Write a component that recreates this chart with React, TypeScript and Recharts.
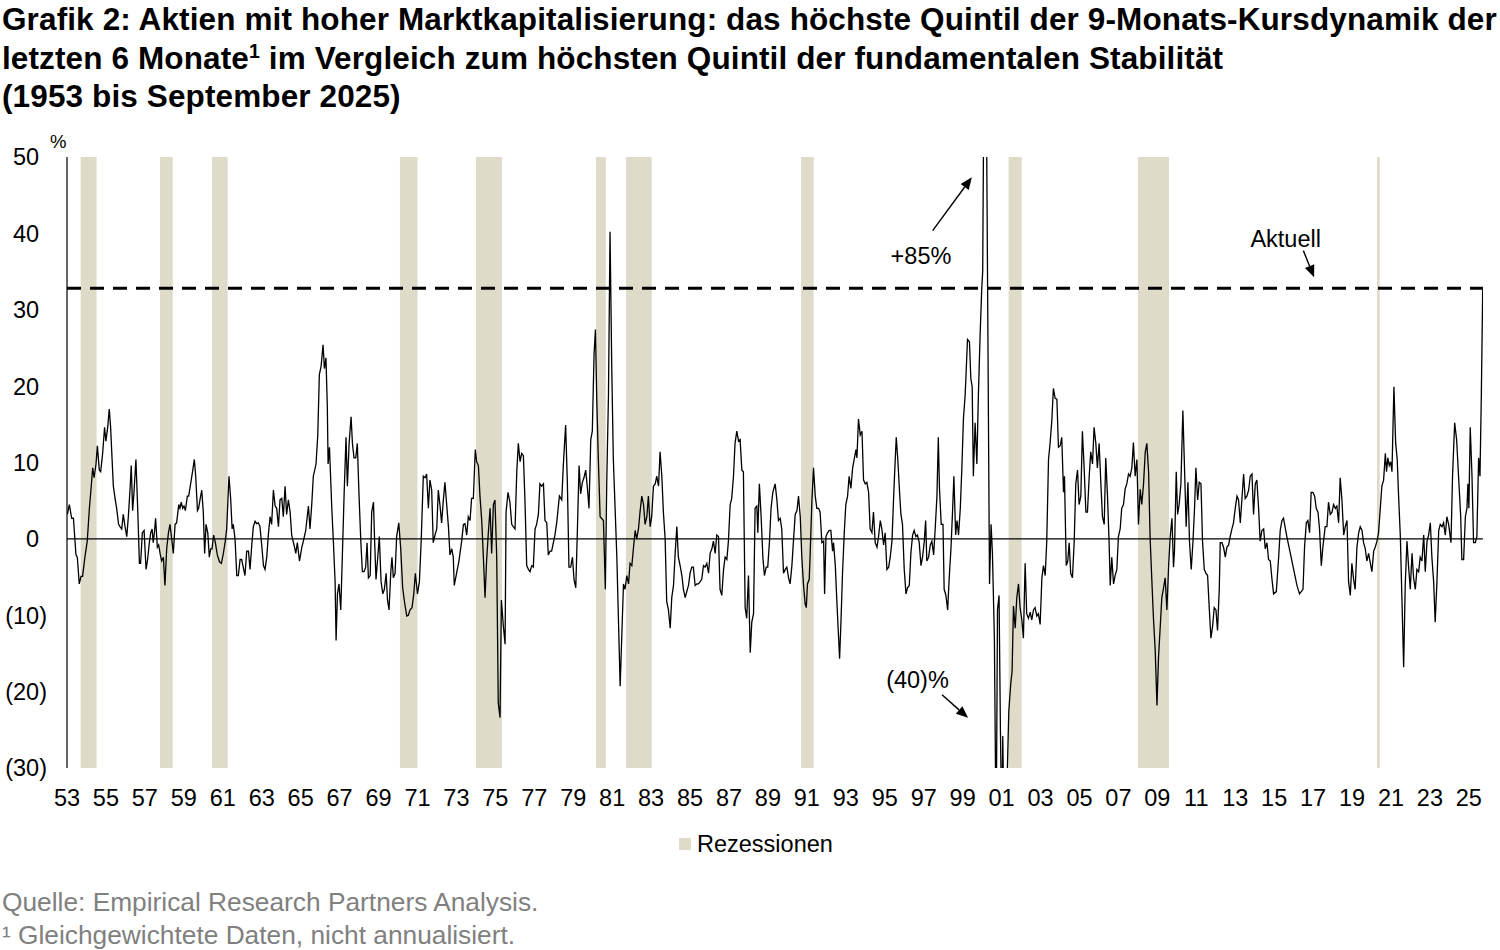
import React from 'react';
import {
  ComposedChart,
  Line,
  XAxis,
  YAxis,
  ReferenceArea,
  ReferenceLine,
  ReferenceDot,
} from 'recharts';

// Decimal years and spread values (%), in segments
const years1953 = [
  1953.02, 1953.12, 1953.24, 1953.33, 1953.46, 1953.53, 1953.63, 1953.72, 1953.8, 1953.92,
  1954.04, 1954.15, 1954.22, 1954.32, 1954.39, 1954.49, 1954.56, 1954.66, 1954.73, 1954.83,
  1954.93, 1955.0, 1955.09, 1955.17, 1955.24, 1955.38, 1955.47, 1955.55, 1955.65, 1955.72,
  1955.81, 1955.89, 1955.98, 1956.07, 1956.15, 1956.24, 1956.3, 1956.37, 1956.44, 1956.54,
  1956.63, 1956.72, 1956.78, 1956.87, 1956.96, 1957.06, 1957.14, 1957.23, 1957.3, 1957.37,
  1957.43, 1957.5, 1957.55, 1957.64, 1957.71, 1957.78, 1957.86, 1957.95, 1958.03, 1958.12,
  1958.21, 1958.29, 1958.39, 1958.46, 1958.55, 1958.63, 1958.74, 1958.8, 1958.87, 1958.94,
  1959.01, 1959.08, 1959.18, 1959.25, 1959.35, 1959.46, 1959.54, 1959.61, 1959.7, 1959.76,
  1959.83, 1959.92, 1960.0, 1960.07, 1960.14, 1960.23, 1960.31, 1960.38, 1960.45, 1960.53,
  1960.62, 1960.72, 1960.83, 1960.93, 1961.03, 1961.13, 1961.2, 1961.27, 1961.32, 1961.41,
  1961.48, 1961.54, 1961.63, 1961.72, 1961.8, 1961.89, 1961.97,
];
const values1953 = [
  3.2, 4.5, 2.7, 2.7, -2.1, -2.4, -5.9, -4.9, -4.9, -2.4,
  -0.3, 4.0, 6.1, 9.3, 8.0, 9.8, 12.2, 9.0, 8.8, 11.2,
  14.6, 12.8, 14.6, 17.0, 14.6, 6.9, 5.3, 4.0, 1.9, 1.6,
  1.3, 3.2, 1.6, 0.3, 2.9, 6.6, 9.6, 3.7, 6.1, 10.4,
  4.0, -3.2, -3.2, 0.8, 1.1, -4.0, -2.7, -0.5, 0.8, 1.3,
  -0.5, 1.1, 2.7, -1.1, -0.8, -1.9, -2.9, -2.4, -6.1, -1.3,
  0.8, 1.9, -0.3, -1.9, 1.9, 2.1, 4.5, 4.0, 4.8, 4.0,
  4.3, 3.7, 5.6, 5.6, 7.2, 9.0, 10.4, 8.2, 3.7, 4.0,
  5.1, 6.4, 3.5, -1.9, 1.9, 0.8, -2.4, -1.3, -1.3, 0.5,
  -0.5, -2.1, -3.0, -3.2, -1.9, -0.3, 1.3, 5.3, 8.2, 5.1,
  1.3, 1.9, 0, -4.8, -4.8, -2.7, -2.7,
];

const years1962 = [
  1962.14, 1962.23, 1962.32, 1962.4, 1962.49, 1962.57, 1962.66, 1962.74, 1962.83, 1962.91,
  1963.0, 1963.09, 1963.17, 1963.26, 1963.34, 1963.43, 1963.51, 1963.6, 1963.69, 1963.77,
  1963.86, 1963.94, 1964.03, 1964.11, 1964.2, 1964.28, 1964.37, 1964.46, 1964.54, 1964.66,
  1964.75, 1964.83, 1964.94, 1965.06, 1965.14, 1965.26, 1965.4, 1965.48, 1965.57, 1965.65,
  1965.79, 1965.88, 1965.96, 1966.05, 1966.15, 1966.22, 1966.3, 1966.37, 1966.41, 1966.48,
  1966.6, 1966.68, 1966.77, 1966.82, 1966.89, 1966.97, 1967.06, 1967.14, 1967.23, 1967.33,
  1967.4, 1967.49, 1967.59, 1967.66, 1967.74, 1967.83, 1967.91, 1968.0, 1968.09, 1968.17,
  1968.26, 1968.34, 1968.41, 1968.48, 1968.57, 1968.65, 1968.74, 1968.8, 1968.87, 1968.96,
  1969.04, 1969.13, 1969.22, 1969.3, 1969.39, 1969.46, 1969.54, 1969.63, 1969.69, 1969.76,
  1969.85, 1969.93, 1970.04, 1970.14, 1970.24, 1970.33, 1970.45, 1970.53, 1970.62, 1970.72,
  1970.81, 1970.89, 1971.0, 1971.1, 1971.19, 1971.3,
];
const values1962 = [
  -4.8, -1.6, -1.6, -4.0, -0.8, 1.6, 2.3, 2.0, 2.1, 1.6,
  -0.8, -3.5, -4.0, -2.4, 0.5, 2.9, 1.9, 6.4, 4.3, 4.0,
  1.6, 5.1, 5.3, 2.9, 6.9, 3.2, 5.1, 3.5, 0.5, -0.8,
  -1.9, -0.5, -2.9, -1.1, -0.3, 1.1, 4.3, 1.3, 4.5, 8.2,
  9.8, 13.6, 21.5, 22.6, 25.4, 22.3, 23.7, 17.3, 9.8, 12.0,
  4.0, -0.3, -5.6, -13.3, -7.2, -5.9, -9.3, -2.4, 5.6, 13.3,
  6.9, 12.5, 16.0, 12.5, 10.6, 10.6, 12.5, 5.6, -0.3, -4.3,
  -4.3, -3.7, -0.5, -5.1, -4.8, 3.5, 4.8, -0.3, -5.3, -2.4,
  0.3, -5.6, -7.2, -6.6, -4.5, -8.0, -9.3, -4.3, -2.4, -5.1,
  -4.5, 0.3, 2.1, -1.3, -6.4, -8.2, -10.1, -10.0, -9.3, -9.0,
  -7.2, -4.5, -7.2, -5.6, -0.3, 8.2,
];

const years1971 = [
  1971.39, 1971.47, 1971.56, 1971.64, 1971.73, 1971.81, 1971.9, 1971.99, 1972.07, 1972.16,
  1972.24, 1972.33, 1972.41, 1972.5, 1972.59, 1972.67, 1972.76, 1972.84, 1972.89, 1973.01,
  1973.13, 1973.27, 1973.36, 1973.44, 1973.53, 1973.61, 1973.7, 1973.78, 1973.87, 1973.97,
  1974.04, 1974.13, 1974.21, 1974.3, 1974.38, 1974.47, 1974.55, 1974.64, 1974.73, 1974.81,
  1974.9, 1974.98, 1975.07, 1975.15, 1975.24, 1975.31, 1975.41, 1975.5, 1975.55, 1975.65,
  1975.75, 1975.84, 1975.92, 1976.01, 1976.1, 1976.18, 1976.27, 1976.35, 1976.44, 1976.52,
  1976.61, 1976.7, 1976.78, 1976.87, 1976.95, 1977.04, 1977.12, 1977.21, 1977.29, 1977.38,
  1977.47, 1977.55, 1977.64, 1977.72, 1977.81, 1977.89, 1977.98, 1978.06, 1978.15, 1978.29,
  1978.41, 1978.49, 1978.61, 1978.7, 1978.78, 1978.87, 1978.96, 1979.04, 1979.13, 1979.21,
  1979.3, 1979.38, 1979.47, 1979.55, 1979.64, 1979.73, 1979.81, 1979.9, 1979.98, 1980.07,
  1980.14, 1980.21, 1980.29, 1980.38,
];
const values1971 = [
  8.0, 8.5, 4.0, 7.7, 6.4, -0.5, 0.5, 1.3, 6.4, 4.3,
  2.1, 5.1, 7.4, 4.5, 1.6, -2.1, -1.3, -2.4, -6.1, -4.5,
  -2.9, -0.3, 1.9, 2.0, 0.5, 2.9, 2.4, 5.3, 5.3, 11.7,
  10.1, 9.6, 5.6, 2.4, -2.1, -7.7, -2.9, 0.8, 4.0, -1.9,
  4.5, 5.1, -2.4, -21.5, -23.4, -8.0, -11.4, -13.8, 3.5, 6.1,
  4.8, 1.9, 1.6, 1.3, 8.8, 12.5, 10.1, 11.2, 10.9, 5.1,
  -3.5, -4.0, -4.3, -3.5, -3.7, 1.3, 1.9, 3.2, 7.2, 6.9,
  7.2, 2.4, 2.1, -2.1, -1.6, -1.6, -0.5, 0.5, 2.1, 5.6,
  5.1, 9.6, 14.9, 7.2, -3.7, -3.7, -2.4, -5.3, -6.4, 0.8,
  9.6, 5.9, 7.4, 8.0, 9.0, 6.6, 4.0, 13.0, 14.1, 24.2,
  27.4, 18.1, 10.4, 2.9,
];

const years1980 = [
  1980.55, 1980.65, 1980.72, 1980.81, 1980.89, 1980.98, 1981.06, 1981.15, 1981.24, 1981.32,
  1981.41, 1981.49, 1981.58, 1981.66, 1981.75, 1981.84, 1981.92, 1982.01, 1982.09, 1982.18,
  1982.26, 1982.35, 1982.43, 1982.52, 1982.61, 1982.69, 1982.78, 1982.86, 1982.95, 1983.03,
  1983.12, 1983.21, 1983.29, 1983.38, 1983.46, 1983.55, 1983.63, 1983.72, 1983.8, 1983.89,
  1983.98, 1984.06, 1984.15, 1984.23, 1984.32, 1984.4, 1984.49, 1984.58, 1984.66, 1984.75,
  1984.83, 1984.92, 1985.0, 1985.09, 1985.17, 1985.26, 1985.35, 1985.43, 1985.52, 1985.6,
  1985.69, 1985.77, 1985.86, 1985.95, 1986.03, 1986.12, 1986.2, 1986.29, 1986.37, 1986.46,
  1986.54, 1986.63, 1986.72, 1986.8, 1986.89, 1986.97, 1987.06, 1987.14, 1987.23, 1987.31,
  1987.4, 1987.49, 1987.57, 1987.66, 1987.74, 1987.83, 1987.91, 1988.0, 1988.09, 1988.17,
  1988.26, 1988.34, 1988.43, 1988.48, 1988.56, 1988.65, 1988.74, 1988.82, 1988.91, 1988.99,
  1989.08, 1989.16, 1989.25, 1989.37, 1989.46, 1989.54, 1989.63, 1989.71, 1989.8,
];
const values1980 = [
  2.4, -6.6, 7.2, 18.9, 40.2, 22.1, 10.4, 4.0, -2.4, -10.4,
  -19.3, -13.0, -5.9, -6.6, -4.8, -5.9, -3.2, -3.5, -1.3, 1.1,
  0, 1.3, 3.5, 5.6, 4.5, 1.9, 2.9, 5.6, 1.6, 2.9,
  6.9, 7.2, 8.2, 6.9, 11.4, 8.2, 3.5, 0, -8.2, -9.3,
  -11.7, -7.7, -6.1, -2.1, 1.6, -2.4, -3.5, -4.8, -6.6, -7.7,
  -6.9, -6.1, -4.5, -3.7, -3.7, -6.1, -5.9, -5.9, -5.6, -5.3,
  -3.5, -3.7, -3.2, -4.5, -1.9, -1.3, -0.3, -1.9, 0.5, 0.3,
  -6.6, -7.4, -4.0, -2.4, -2.7, -0.3, 4.5, 5.3, 8.2, 12.5,
  14.1, 12.8, 13.0, 9.0, 8.8, -9.0, -10.4, -4.8, -14.9, -10.9,
  -9.8, 4.0, 4.3, 0.8, 7.2, 2.9, -2.4, -4.8, -3.7, -3.7,
  -0.3, 4.0, 6.1, 7.2, 5.1, 2.4, 2.7, 1.3, -4.5,
];

const years1990 = [
  1989.89, 1989.97, 1990.06, 1990.14, 1990.23, 1990.31, 1990.4, 1990.49, 1990.57, 1990.66,
  1990.74, 1990.83, 1990.91, 1990.97, 1991.03, 1991.12, 1991.17, 1991.26, 1991.34, 1991.43,
  1991.51, 1991.6, 1991.68, 1991.77, 1991.86, 1991.91, 1991.98, 1992.06, 1992.15, 1992.23,
  1992.32, 1992.37, 1992.46, 1992.54, 1992.63, 1992.68, 1992.75, 1992.83, 1992.92, 1993.0,
  1993.09, 1993.17, 1993.26, 1993.35, 1993.43, 1993.52, 1993.57, 1993.65, 1993.74, 1993.83,
  1993.91, 1994.0, 1994.08, 1994.17, 1994.25, 1994.34, 1994.42, 1994.51, 1994.6, 1994.68,
  1994.77, 1994.85, 1994.94, 1995.02, 1995.11, 1995.2, 1995.28, 1995.37, 1995.45, 1995.5,
  1995.59, 1995.67, 1995.76, 1995.83, 1995.91, 1996.0, 1996.09, 1996.17, 1996.26, 1996.34,
  1996.43, 1996.51, 1996.6, 1996.68, 1996.77, 1996.86, 1996.94, 1997.03, 1997.1, 1997.16,
  1997.25, 1997.34, 1997.42, 1997.51, 1997.59, 1997.68, 1997.75, 1997.81, 1997.9, 1997.99,
  1998.05, 1998.14, 1998.23, 1998.31, 1998.4, 1998.48, 1998.55, 1998.64, 1998.71, 1998.79,
  1998.88, 1998.96,
];
const values1990 = [
  -4.0, -3.7, -5.1, -5.9, -3.5, -0.3, 3.2, 3.7, 5.6, 2.9,
  -2.4, -6.1, -8.5, -9.0, -5.9, -5.3, -1.9, 5.1, 9.3, 5.6,
  4.0, 4.0, 3.5, -0.5, -0.3, -7.2, 0.3, 0.8, 1.1, 1.1,
  -1.6, -0.5, -3.5, -8.2, -13.0, -15.7, -10.9, -4.5, 0.8, 4.5,
  5.6, 8.2, 6.6, 9.3, 10.4, 11.7, 10.6, 15.7, 13.6, 14.1,
  7.7, 7.2, 7.4, 6.1, 1.3, 0.8, 3.5, -0.5, -1.1, 0.3,
  2.4, 1.3, -0.8, 0.8, -4.0, -3.7, -2.4, -0.3, 5.1, 8.2,
  13.3, 10.4, 6.1, 3.2, 1.9, -4.0, -7.2, -6.4, -6.1, -1.9,
  0.5, 1.1, 0.3, 0.5, -0.5, -3.5, -2.4, -0.3, 2.4, -2.9,
  -2.4, -0.8, -0.3, -2.1, 1.3, 5.6, 13.3, 6.6, 1.9, 1.9,
  -6.6, -7.4, -9.3, -5.1, -1.3, 3.5, 8.2, 0.5, 2.4, 0.5,
  4.0, 9.3,
];

const years1999 = [
  1999.04, 1999.13, 1999.25, 1999.35, 1999.42, 1999.49, 1999.55, 1999.64, 1999.73, 1999.81,
  1999.9, 1999.98, 2000.03, 2000.15, 2000.38, 2000.46, 2000.53, 2000.63, 2000.72, 2000.79,
  2000.87, 2000.94, 2001.01, 2001.06, 2001.11, 2001.27, 2001.37, 2001.47, 2001.54, 2001.61,
  2001.7, 2001.78, 2001.87, 2001.95, 2002.04, 2002.12, 2002.21, 2002.29, 2002.38, 2002.47,
  2002.55, 2002.64, 2002.72, 2002.81, 2002.89, 2002.98, 2003.07, 2003.15, 2003.24, 2003.32,
  2003.41, 2003.49, 2003.58, 2003.66, 2003.75, 2003.84, 2003.92, 2004.01, 2004.09, 2004.18,
  2004.23, 2004.32, 2004.4, 2004.47, 2004.55, 2004.64, 2004.73, 2004.81, 2004.9, 2004.98,
  2005.07, 2005.15, 2005.24, 2005.33, 2005.41, 2005.5, 2005.58, 2005.67, 2005.75, 2005.84,
  2005.92, 2006.01, 2006.1, 2006.18, 2006.27, 2006.35, 2006.44, 2006.52, 2006.58, 2006.66,
  2006.75, 2006.83, 2006.92, 2007.0, 2007.09, 2007.17, 2007.26, 2007.35, 2007.43, 2007.52,
  2007.6, 2007.69, 2007.77, 2007.86, 2007.95, 2008.03, 2008.12, 2008.2,
];
const values1999 = [
  15.7, 18.9, 26.1, 25.8, 21.0, 19.9, 8.2, 15.2, 9.8, 19.0,
  26.9, 32.7, 35.0, 85.0, -5.9, 1.9, -1.9, -13.0, -40.0, -9.3,
  -7.4, -25.0, -38.0, -25.8, -35.0, -33.0, -22.6, -19.0, -17.3, -8.8,
  -11.7, -7.7, -5.9, -9.0, -10.6, -13.0, -3.2, -9.8, -10.4, -9.6,
  -10.6, -9.3, -9.0, -10.1, -9.8, -11.2, -5.1, -3.5, -4.8, -0.3,
  10.4, 12.5, 15.5, 19.7, 18.4, 18.3, 12.0, 12.2, 13.3, 6.1,
  8.2, -3.5, -2.9, -0.5, -4.5, -5.1, -0.3, 7.2, 9.0, 4.5,
  5.6, 14.1, 9.3, 3.5, 3.5, 8.2, 11.4, 9.8, 14.6, 12.5,
  9.3, 12.5, 7.2, 2.9, 1.9, 10.6, 5.6, -0.3, -6.1, -2.4,
  -5.9, -4.8, -4.0, 0.3, 1.3, 4.0, 4.5, 6.6, 7.2, 8.5,
  8.2, 9.3, 12.6, 8.2, 10.4, 1.9, 6.5, 4.5,
];

const years2008 = [
  2008.29, 2008.38, 2008.46, 2008.55, 2008.63, 2008.72, 2008.8, 2008.89, 2008.98, 2009.06,
  2009.15, 2009.23, 2009.32, 2009.4, 2009.49, 2009.58, 2009.66, 2009.75, 2009.83, 2009.88,
  2009.97, 2010.04, 2010.12, 2010.21, 2010.31, 2010.4, 2010.48, 2010.57, 2010.65, 2010.74,
  2010.83, 2010.91, 2010.98, 2011.07, 2011.15, 2011.24, 2011.32, 2011.41, 2011.49, 2011.58,
  2011.66, 2011.75, 2011.84, 2011.92, 2012.01, 2012.09, 2012.18, 2012.23, 2012.32, 2012.4,
  2012.49, 2012.57, 2012.66, 2012.74, 2012.83, 2012.91, 2013.0, 2013.09, 2013.17, 2013.26,
  2013.34, 2013.43, 2013.51, 2013.6, 2013.69, 2013.77, 2013.86, 2013.94, 2014.03, 2014.11,
  2014.2, 2014.28, 2014.37, 2014.46, 2014.54, 2014.63, 2014.71, 2014.8, 2014.88, 2014.97,
  2015.11, 2015.23, 2015.31, 2015.4, 2015.48, 2015.65, 2015.83, 2016.0, 2016.17, 2016.3,
  2016.39, 2016.48, 2016.56, 2016.65, 2016.73, 2016.82, 2016.9, 2016.99, 2017.08, 2017.16,
  2017.25, 2017.33, 2017.42, 2017.5,
];
const values2008 = [
  7.2, 11.4, 12.5, 8.8, 0, -5.6, -10.4, -14.6, -21.8, -15.5,
  -11.4, -7.7, -6.4, -5.1, -9.3, -3.5, 0.3, 2.7, -3.7, -1.6,
  8.8, 3.2, 4.5, 7.2, 16.8, 8.8, 1.6, 7.4, -0.3, -4.0,
  -0.3, 4.0, 9.3, 5.1, 7.4, 7.2, -0.3, -4.0, -4.5, -4.8,
  -8.8, -13.0, -11.4, -9.0, -9.3, -12.0, -6.6, -0.5, -0.5, -1.1,
  -2.4, -1.1, -0.8, 0.3, 1.3, 2.1, 4.0, 5.6, 5.1, 2.1,
  5.1, 8.5, 5.3, 5.6, 6.4, 8.2, 8.5, 3.2, 7.2, 7.7,
  4.0, -0.3, 1.1, 1.3, -1.3, -0.5, -2.7, -2.9, -5.1, -7.2,
  -6.9, -2.4, 1.1, 2.4, 2.7, 0.3, -1.9, -4.0, -6.1, -7.2,
  -6.9, -6.6, -1.1, 2.1, 2.4, 0.8, 6.1, 6.1, 5.6, 4.0,
  3.5, 1.3, -3.5, -1.1,
];

const years2017 = [
  2017.62, 2017.71, 2017.79, 2017.88, 2017.97, 2018.05, 2018.14, 2018.22, 2018.31, 2018.39,
  2018.48, 2018.57, 2018.65, 2018.74, 2018.82, 2018.91, 2018.99, 2019.08, 2019.16, 2019.25,
  2019.34, 2019.42, 2019.51, 2019.59, 2019.68, 2019.76, 2019.85, 2019.94, 2020.02, 2020.11,
  2020.19, 2020.28, 2020.36, 2020.45, 2020.53, 2020.62, 2020.71, 2020.77, 2020.84, 2020.91,
  2020.98, 2021.05, 2021.15, 2021.24, 2021.32, 2021.39, 2021.48, 2021.56, 2021.65, 2021.73,
  2021.82, 2021.9, 2021.99, 2022.08, 2022.16, 2022.25, 2022.33, 2022.42, 2022.5, 2022.59,
  2022.68, 2022.76, 2022.85, 2022.93, 2023.02, 2023.1, 2023.19, 2023.27, 2023.36, 2023.45,
  2023.53, 2023.62, 2023.7, 2023.79, 2023.87, 2023.96, 2024.08, 2024.16, 2024.27, 2024.37,
  2024.47, 2024.58, 2024.64, 2024.73, 2024.82, 2024.9, 2024.95, 2025.0, 2025.07, 2025.16,
  2025.24, 2025.33, 2025.41, 2025.5, 2025.57, 2025.64, 2025.71,
];
const values2017 = [
  1.6, 1.6, 4.8, 3.2, 3.5, 4.5, 4.0, 4.3, 2.1, 8.0,
  5.1, 0.5, 1.6, 2.4, -5.6, -7.4, -3.2, -5.3, -6.6, -1.1,
  0.8, 1.6, 1.1, -0.5, -1.3, -2.9, -1.9, -3.2, -4.3, -1.6,
  -1.1, -0.3, 0.8, 4.0, 6.9, 7.7, 11.2, 8.8, 10.6, 9.6,
  10.1, 8.8, 19.9, 12.5, 10.4, 5.6, 0.3, -7.7, -16.8, -6.1,
  -0.3, -3.5, -6.6, -1.9, -5.1, -6.6, -4.0, -4.3, -2.4, -2.9,
  0.5, -4.3, -0.3, 0.5, 2.1, -2.4, -5.6, -10.9, -5.6, 1.1,
  1.9, 1.6, 2.1, 0.5, 2.9, 1.9, -0.5, 8.2, 15.2, 13.0,
  8.2, 2.9, -2.7, -2.7, 2.9, 4.0, 7.2, 4.0, 14.6, 8.2,
  -0.5, -0.5, 0.3, 10.6, 8.2, 18.9, 32.7,
];

// Recession bands as drawn (start, end in decimal years)
const recessionStarts = [1953.7, 1957.78, 1960.45, 1970.1, 1974.0, 1980.17, 1981.71, 1990.7, 2001.36, 2008.0, 2020.28];
const recessionEnds = [1954.52, 1958.43, 1961.25, 1971.0, 1975.34, 1980.67, 1983.03, 1991.35, 2002.03, 2009.6, 2020.42];

const currentLevel = 32.8;
const xTicks = Array.from({ length: 37 }, (_, i) => 1953 + i * 2);
const yTicks = [-30, -20, -10, 0, 10, 20, 30, 40, 50];

const allYears = [...years1953, ...years1962, ...years1971, ...years1980, ...years1990, ...years1999, ...years2008, ...years2017];
const allValues = [...values1953, ...values1962, ...values1971, ...values1980, ...values1990, ...values1999, ...values2008, ...values2017];
const data = allYears.map((year, i) => ({ year, v: allValues[i] }));

const FONT = '"Liberation Sans", Arial, Helvetica, sans-serif';
const TICK_SIZE = 23.5;

const YTick = (props: any) => {
  const { x, y, payload } = props;
  const v = payload.value;
  const label = v < 0 ? `(${-v})` : `${v}`;
  return (
    <text x={v < 0 ? x : x - 7.8} y={y} dy={8.4} textAnchor="end" fontSize={TICK_SIZE} fill="#000" fontFamily={FONT}>
      {label}
    </text>
  );
};

const Arrow = (props: any) => {
  const { x1, y1, x2, y2 } = props;
  const dx = x2 - x1;
  const dy = y2 - y1;
  const len = Math.hypot(dx, dy) || 1;
  const ux = dx / len;
  const uy = dy / len;
  const head = 12;
  const half = 5;
  const bx = x2 - ux * head;
  const by = y2 - uy * head;
  return (
    <g>
      <line x1={x1} y1={y1} x2={bx} y2={by} stroke="#000" strokeWidth={1.4} />
      <polygon
        points={`${x2},${y2} ${bx - uy * half},${by + ux * half} ${bx + uy * half},${by - ux * half}`}
        fill="#000"
      />
    </g>
  );
};

const makeLabel = (text: string) => (props: any) => (
  <text
    x={props.cx}
    y={props.cy}
    dy={8.4}
    textAnchor="middle"
    fontSize={TICK_SIZE}
    fill="#000"
    fontFamily={FONT}
  >
    {text}
  </text>
);

export default function App() {
  return (
    <div
      style={{
        position: 'absolute',
        left: 0,
        top: 0,
        width: 1500,
        height: 950,
        background: '#fff',
        fontFamily: FONT,
        color: '#000',
        overflow: 'hidden',
      }}
    >
      <div
        style={{
          position: 'absolute',
          left: 2,
          top: 0,
          fontSize: 31.5,
          lineHeight: '38.5px',
          fontWeight: 700,
          letterSpacing: '0.12px',
          whiteSpace: 'nowrap',
        }}
      >
        <div>Grafik 2: Aktien mit hoher Marktkapitalisierung: das höchste Quintil der 9-Monats-Kursdynamik der</div>
        <div>
          letzten 6 Monate
          <sup style={{ fontSize: '0.62em', lineHeight: 0, verticalAlign: '0.55em' }}>1</sup> im Vergleich zum
          höchsten Quintil der fundamentalen Stabilität
        </div>
        <div>(1953 bis September 2025)</div>
      </div>

      <div style={{ position: 'absolute', left: 50, top: 131, fontSize: 18.5 }}>%</div>

      <div style={{ position: 'absolute', left: 0, top: 140 }}>
        <ComposedChart
          width={1500}
          height={673}
          data={data}
          margin={{ top: 17, right: 17.1, bottom: 0, left: 0 }}
        >
          {recessionStarts.map((s, i) => (
            <ReferenceArea
              key={`rec-${i}`}
              x1={s}
              x2={recessionEnds[i]}
              y1={-30}
              y2={50}
              fill="#dedbc8"
              fillOpacity={1}
              stroke="none"
            />
          ))}
          <XAxis
            type="number"
            dataKey="year"
            domain={[1953, 2025.72]}
            ticks={xTicks}
            interval={0}
            allowDataOverflow
            tickFormatter={(v: number) => String(v % 100).padStart(2, '0')}
            axisLine={false}
            tickLine={false}
            tick={{ fontSize: TICK_SIZE, fill: '#000', fontFamily: FONT }}
            tickMargin={15}
            height={45}
          />
          <YAxis
            type="number"
            domain={[-30, 50]}
            ticks={yTicks}
            interval={0}
            allowDataOverflow
            axisLine={{ stroke: '#000', strokeWidth: 1.2 }}
            tickLine={false}
            tick={<YTick />}
            tickMargin={14}
            width={67}
          />
          <ReferenceLine y={0} stroke="#000" strokeWidth={1.2} />
          <ReferenceLine y={currentLevel} stroke="#000" strokeWidth={3} strokeDasharray="14 9" />
          <Line
            type="linear"
            dataKey="v"
            stroke="#000"
            strokeWidth={1.3}
            dot={false}
            activeDot={false}
            isAnimationActive={false}
          />
          <ReferenceLine
            segment={[{ x: 1997.46, y: 40.35 }, { x: 1999.47, y: 47.34 }]}
            shape={Arrow}
          />
          <ReferenceDot x={1996.86} y={37.04} r={1} shape={makeLabel('+85%')} />
          <ReferenceLine
            segment={[{ x: 1997.94, y: -20.42 }, { x: 1999.28, y: -23.43 }]}
            shape={Arrow}
          />
          <ReferenceDot x={1996.68} y={-18.46} r={1} shape={makeLabel('(40)%')} />
          <ReferenceLine
            segment={[{ x: 2016.5, y: 37.74 }, { x: 2017.05, y: 34.25 }]}
            shape={Arrow}
          />
          <ReferenceDot x={2015.59} y={39.36} r={1} shape={makeLabel('Aktuell')} />
        </ComposedChart>
      </div>

      <div style={{ position: 'absolute', left: 679, top: 838, width: 12, height: 12, background: '#dedbc8' }} />
      <div style={{ position: 'absolute', left: 697, top: 829, fontSize: TICK_SIZE, lineHeight: '30px' }}>
        Rezessionen
      </div>

      <div
        style={{
          position: 'absolute',
          left: 2,
          top: 886,
          fontSize: 26.3,
          lineHeight: '33px',
          color: '#808080',
          whiteSpace: 'nowrap',
        }}
      >
        <div>Quelle: Empirical Research Partners Analysis.</div>
        <div>¹ Gleichgewichtete Daten, nicht annualisiert.</div>
      </div>
    </div>
  );
}
